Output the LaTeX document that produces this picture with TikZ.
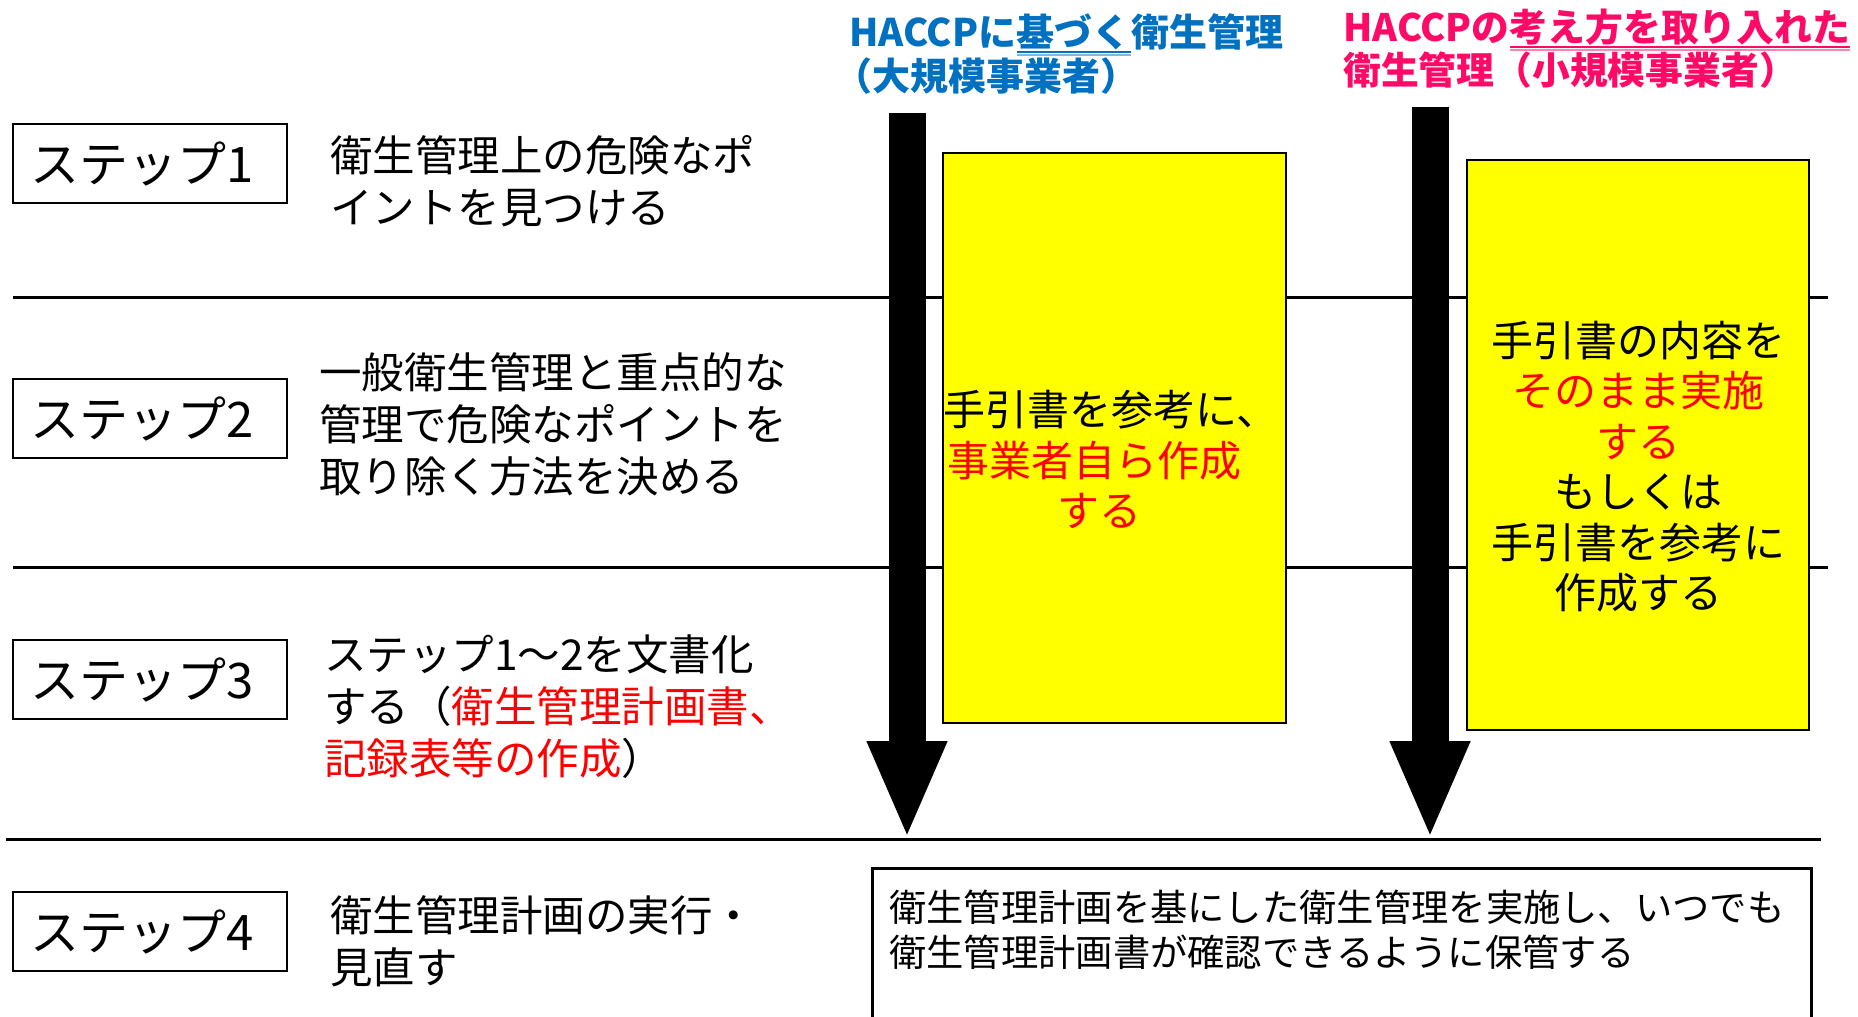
\documentclass[tikz,border=0pt]{standalone}
\usepackage{fontspec}
\setmainfont{Noto Sans CJK JP}
\usetikzlibrary{arrows.meta}
\definecolor{hblue}{HTML}{0070C0}
\definecolor{hpink}{HTML}{FF0A66}
\definecolor{ylw}{HTML}{FFFF00}
\definecolor{ured}{HTML}{FF0000}
\tikzset{
  stepbox/.style={draw=black, line width=2.5pt, minimum width=274pt, minimum height=79pt, inner sep=0pt, font=\fontsize{49}{52}\selectfont},
  desc/.style={anchor=west, align=left, inner sep=0pt, font=\fontsize{42.5}{52}\selectfont},
  ybox/.style={draw=black, line width=2.5pt, fill=ylw, inner sep=0pt},
  ytext/.style={align=center, inner sep=0pt, font=\fontsize{42}{50.5}\selectfont},
  sepline/.style={line width=3pt},
  bigarrow/.style={line width=37pt, -{Triangle[width=73pt,length=98pt]}},
  hdrA/.style={anchor=base west, inner sep=0pt, text=hblue, font=\bfseries\fontsize{38}{44}\selectfont},
  hdrB/.style={anchor=base west, inner sep=0pt, text=hpink, font=\bfseries\fontsize{37.8}{42}\selectfont},
  plainbox/.style={draw=black, line width=2.5pt, inner sep=0pt},
  btext/.style={anchor=west, align=left, inner sep=0pt, font=\fontsize{37.3}{45}\selectfont}
}
\begin{document}
\begin{tikzpicture}[x=1pt,y=-1pt]
\useasboundingbox (0,0) rectangle (1858,1017);
\clip (0,0) rectangle (1858,1017);
\fill[white] (0,0) rectangle (1858,1017);

% separator lines
\coordinate (l1a) at (13,297.5); \coordinate (l1b) at (1828,297.5);
\coordinate (l2a) at (13,567.5); \coordinate (l2b) at (1828,567.5);
\coordinate (l3a) at (6,839);    \coordinate (l3b) at (1821,839);
\draw[sepline] (l1a) -- (l1b);
\draw[sepline] (l2a) -- (l2b);
\draw[sepline] (l3a) -- (l3b);

% step boxes
\node[stepbox] (s1) at (150,163.5) {ステップ1\rule{15pt}{0pt}};
\node[stepbox] (s2) at (150,418.5) {ステップ2\rule{15pt}{0pt}};
\node[stepbox] (s3) at (150,679.5) {ステップ3\rule{15pt}{0pt}};
\node[stepbox] (s4) at (150,931.5) {ステップ4\rule{15pt}{0pt}};

% step descriptions
\node[desc] (d1) at (330,181) {衛生管理上の危険なポ\\イントを見つける};
\node[desc] (d2) at (319,424) {一般衛生管理と重点的な\\管理で危険なポイントを\\取り除く方法を決める};
\node[desc] (d3) at (324,707) {ステップ1～2を文書化\\する（{\color{ured}衛生管理計画書、}\\{\color{ured}記録表等の作成}）};
\node[desc] (d4) at (330,941) {衛生管理計画の実行・\\見直す};

% yellow boxes
\node[ybox, minimum width=343pt, minimum height=570pt] (y1) at (1114.5,438) {};
\node[ybox, minimum width=342pt, minimum height=570pt] (y2) at (1638,445) {};
\node[ytext] (y1t) at (1104,459.5) {\rule{14pt}{0pt}手引書を参考に、\\{\color{ured}事業者自ら作成}\rule{19pt}{0pt}\\{\color{ured}する}\rule{10pt}{0pt}};
\node[ytext] (y2t) at (1638,466.5) {手引書の内容を\\{\color{ured}そのまま実施}\\{\color{ured}する}\\もしくは\\手引書を参考に\\作成する};

% arrows
\coordinate (a1top) at (907,112.5); \coordinate (a1tip) at (907,839);
\coordinate (a2top) at (1430,106.5); \coordinate (a2tip) at (1430,839);
\draw[bigarrow] (a1top) -- (a1tip);
\draw[bigarrow] (a2top) -- (a2tip);

% bottom box
\node[plainbox, anchor=north west, minimum width=939pt, minimum height=220pt] (bb) at (871,867) {};
\node[btext] (bt) at (889,929.5) {衛生管理計画を基にした衛生管理を実施し、いつでも\\衛生管理計画書が確認できるように保管する};

% headers
\node[hdrA] (h1a) at (849,46) {HACCPに};
\node[hdrA] (h1b) at (h1a.base east) {基づく};
\node[hdrA] (h1c) at (h1b.base east) {衛生管理};
\node[hdrA] (h1d) at (834,90) {（大規模事業者）};
\draw[hblue, line width=1.5pt] ([yshift=-6pt]h1b.base west) -- ([yshift=-6pt]h1b.base east);
\draw[hblue!50, line width=1.5pt] ([yshift=-9pt]h1b.base west) -- ([yshift=-9pt]h1b.base east);

\node[hdrB] (h2a) at (1343,41) {HACCPの};
\node[hdrB] (h2b) at (h2a.base east) {考え方を取り入れた};
\node[hdrB] (h2c) at (1343,84) {衛生管理（小規模事業者）};
\draw[hpink, line width=1.5pt] ([yshift=-6pt]h2b.base west) -- ([yshift=-6pt]h2b.base east);
\draw[hpink!50, line width=1.5pt] ([yshift=-9pt]h2b.base west) -- ([yshift=-9pt]h2b.base east);
\end{tikzpicture}
\end{document}
